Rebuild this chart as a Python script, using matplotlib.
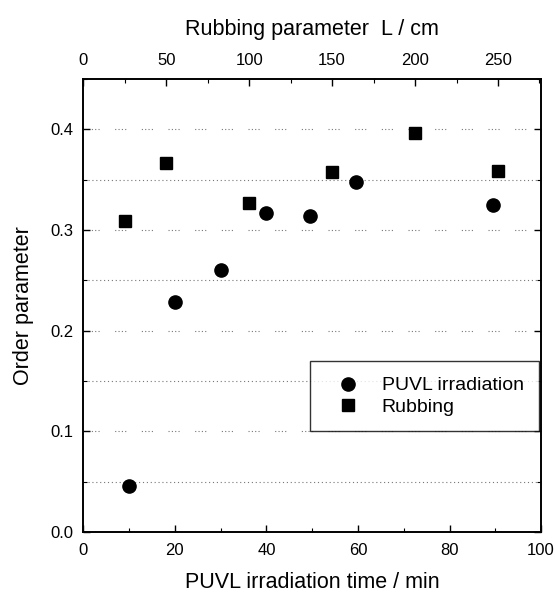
import matplotlib
matplotlib.use('Agg')
import matplotlib.pyplot as plt
from matplotlib.ticker import MultipleLocator

plt.rcParams['font.family'] = ['Liberation Sans', 'DejaVu Sans']

# PUVL irradiation (bottom axis, min)
puvl_time = [10, 20, 30, 40, 49.6, 59.5, 89.5]
puvl_order = [0.046, 0.228, 0.260, 0.317, 0.314, 0.348, 0.325]

# Rubbing (top axis, L / cm)
rub_length = [25, 50, 100, 150, 200, 250]
rub_order = [0.309, 0.367, 0.327, 0.358, 0.396, 0.359]

grid_levels = [0.05, 0.1, 0.15, 0.2, 0.25, 0.3, 0.35, 0.4]

fig = plt.figure(figsize=(5.55, 5.94), dpi=100)
ax = fig.add_axes([0.150, 0.1044, 0.825, 0.7626])
ax_top = ax.twiny()

# dotted horizontal guide lines
for lvl in grid_levels:
    if abs(lvl * 10 - round(lvl * 10)) < 1e-6:
        ls = (0, (1, 2, 1, 2, 1, 2, 1, 14))
    else:
        ls = (0, (1, 2.5))
    ax.axhline(lvl, xmin=0.01, xmax=0.99, color='#777777', lw=0.8,
               linestyle=ls, zorder=0)

ax.plot(puvl_time, puvl_order, 'o', color='black', markersize=9.5,
        label='PUVL irradiation', zorder=3)
ax_top.plot(rub_length, rub_order, 's', color='black', markersize=8.5,
            label='Rubbing', zorder=3)

ax.set_xlim(0, 100)
ax.set_ylim(0, 0.45)
ax_top.set_xlim(0, 276)

ax.xaxis.set_major_locator(MultipleLocator(20))
ax.xaxis.set_minor_locator(MultipleLocator(10))
ax.yaxis.set_major_locator(MultipleLocator(0.1))
ax.yaxis.set_minor_locator(MultipleLocator(0.05))
ax_top.xaxis.set_major_locator(MultipleLocator(50))
ax_top.xaxis.set_minor_locator(MultipleLocator(25))
ax.yaxis.set_major_formatter(plt.FuncFormatter(lambda v, p: f'{v:.1f}'))

ax.tick_params(which='both', direction='in', labelsize=12, right=True)
ax.tick_params(which='major', length=5, width=1)
ax.tick_params(which='minor', length=3, width=0.8)
ax_top.tick_params(which='both', direction='in', labelsize=12)
ax_top.tick_params(which='major', length=5, width=1)
ax_top.tick_params(which='minor', length=3, width=0.8)
ax.tick_params(axis='x', pad=8)
ax.tick_params(axis='y', pad=7)
ax_top.tick_params(axis='x', pad=8)

for a in (ax, ax_top):
    for s in a.spines.values():
        s.set_linewidth(1.2)

ax.set_xlabel('PUVL irradiation time / min', fontsize=15.5, labelpad=10)
ax.set_ylabel('Order parameter', fontsize=15.5, labelpad=12)
ax_top.set_xlabel('Rubbing parameter  L / cm', fontsize=15.5, labelpad=13)

h1, l1 = ax.get_legend_handles_labels()
h2, l2 = ax_top.get_legend_handles_labels()
leg = ax_top.legend(h1 + h2, l1 + l2, loc='upper right',
                    bbox_to_anchor=(0.996, 0.377), borderaxespad=0,
                    fontsize=14, frameon=True, fancybox=False,
                    handletextpad=0.6, borderpad=0.8, labelspacing=0.2,
                    handlelength=2.3)
leg.get_frame().set_edgecolor('black')
leg.get_frame().set_linewidth(1.0)

fig.savefig('out.png', dpi=100)
